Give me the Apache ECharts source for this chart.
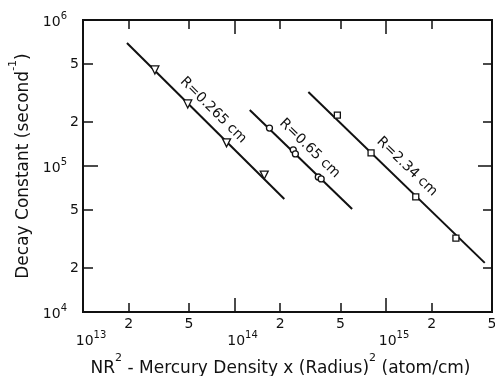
<!DOCTYPE html>
<html>
<head>
<meta charset="utf-8">
<script src="https://cdn.jsdelivr.net/npm/echarts@6/dist/echarts.min.js"></script>
<style>
  html, body { margin: 0; padding: 0; background: #fff; }
  #chart { width: 495px; height: 376px; }
</style>
</head>
<body>
<div id="chart"></div>
<script>
// NR^2 (atom/cm) vs decay constant (1/s)
const triX = [2.98e13, 4.91e13, 8.86e13, 1.57e14];
const triY = [4.55e5, 2.66e5, 1.44e5, 8.67e4];
const triLineX = [1.95e13, 2.13e14];
const triLineY = [6.95e5, 5.94e4];

const circX = [1.70e14, 2.44e14, 2.52e14, 3.57e14, 3.73e14];
const circY = [1.82e5, 1.29e5, 1.21e5, 8.41e4, 8.15e4];
const circLineX = [1.26e14, 5.97e14];
const circLineY = [2.42e5, 5.07e4];

const sqX = [4.77e14, 7.96e14, 1.57e15, 2.89e15];
const sqY = [2.23e5, 1.23e5, 6.14e4, 3.21e4];
const sqLineX = [3.07e14, 4.48e15];
const sqLineY = [3.21e5, 2.17e4];

const seriesNames = ['R=0.265 cm', 'R=0.65 cm', 'R=2.34 cm'];

// tick positions
const xMajor = [1e13, 1e14, 1e15];
const xMinor = [2e13, 5e13, 2e14, 5e14, 2e15, 5e15];
const yMajor = [1e4, 1e5, 1e6];
const yMinor = [2e4, 5e4, 2e5, 5e5];

const lg = v => Math.log10(v);
const FONT = 'DejaVu Sans';
const INK = '#111';

const pts = (xs, ys) => xs.map((x, i) => [lg(x), lg(ys[i])]);

const supRich = {
  b: { fontSize: 14, lineHeight: 18, verticalAlign: 'bottom', color: INK, fontFamily: FONT },
  s: { fontSize: 10, lineHeight: 10, verticalAlign: 'top', color: INK, fontFamily: FONT }
};
const nameRich = {
  n: { fontSize: 17, lineHeight: 24, verticalAlign: 'bottom', color: INK, fontFamily: FONT },
  s: { fontSize: 11, lineHeight: 11, verticalAlign: 'top', color: INK, fontFamily: FONT }
};

function powLabel(v) {
  return '{b|10}{s|' + Math.round(v) + '}';
}
function mantLabel(v) {
  return String(Math.round(Math.pow(10, v - Math.floor(v))));
}

function axis(dim, pos, vals, len, labelCfg) {
  const a = {
    type: 'value',
    position: pos,
    min: dim === 'x' ? 13 : 4,
    max: dim === 'x' ? lg(5e15) : 6,
    axisLine: { show: true, onZero: false, lineStyle: { color: INK, width: 2 } },
    axisTick: { show: true, inside: true, length: len, customValues: vals.map(lg), lineStyle: { color: INK, width: 1.5 } },
    splitLine: { show: false },
    axisLabel: { show: false }
  };
  if (labelCfg) {
    a.axisLabel = Object.assign({
      show: true,
      customValues: vals.map(lg),
      color: INK,
      fontFamily: FONT,
      fontSize: 14
    }, labelCfg);
  }
  return a;
}

const xAxes = [
  axis('x', 'bottom', xMajor, 14, {
    margin: 18,
    formatter: powLabel,
    rich: {
      b: Object.assign({}, supRich.b, { padding: [0, 0, 0, 16] }),
      s: supRich.s
    }
  }),
  axis('x', 'bottom', xMinor, 9, { margin: 5, formatter: mantLabel }),
  axis('x', 'top', xMajor, 14),
  axis('x', 'top', xMinor, 9)
];
xAxes[0].name = '{n|NR}{s|2}{n| - Mercury Density x (Radius)}{s|2}{n| (atom/cm)}';
xAxes[0].nameLocation = 'middle';
xAxes[0].nameGap = 38;
xAxes[0].nameTextStyle = { color: INK, fontFamily: FONT, fontSize: 17, padding: [0, 14, 0, 0], rich: nameRich };

const yAxes = [
  axis('y', 'left', yMajor, 15, {
    margin: 4,
    formatter: powLabel,
    rich: {
      b: supRich.b,
      s: Object.assign({}, supRich.s, { padding: [0, 12, 0, 0] })
    }
  }),
  axis('y', 'left', yMinor, 10, { margin: 4, formatter: mantLabel }),
  axis('y', 'right', yMajor, 14),
  axis('y', 'right', yMinor, 9)
];
yAxes[0].name = '{n|Decay Constant (second}{s|-1}{n|)}';
yAxes[0].nameLocation = 'middle';
yAxes[0].nameGap = 47;
yAxes[0].nameTextStyle = { color: INK, fontFamily: FONT, fontSize: 17, rich: nameRich };

const lineSeries = (xs, ys) => ({
  type: 'line',
  data: pts(xs, ys),
  showSymbol: false,
  silent: true,
  lineStyle: { color: INK, width: 2 },
  z: 2
});
const markSeries = (name, xs, ys, symbol, size, rot) => ({
  type: 'scatter',
  name: name,
  data: pts(xs, ys),
  symbol: symbol,
  symbolSize: size,
  symbolRotate: rot || 0,
  itemStyle: { color: '#fff', borderColor: INK, borderWidth: 1.3, opacity: 1 },
  z: 3
});

const chart = echarts.init(document.getElementById('chart'), null, { renderer: 'canvas' });
chart.setOption({
  animation: false,
  backgroundColor: '#fff',
  grid: { left: 83, top: 20, right: 3, bottom: 64, containLabel: false, outerBoundsMode: 'none' },
  xAxis: xAxes,
  yAxis: yAxes,
  series: [
    lineSeries(triLineX, triLineY),
    markSeries(seriesNames[0], triX, triY, 'triangle', 8, 180),
    lineSeries(circLineX, circLineY),
    markSeries(seriesNames[1], circX, circY, 'circle', 6),
    lineSeries(sqLineX, sqLineY),
    markSeries(seriesNames[2], sqX, sqY, 'rect', 6)
  ]
});

// labels along each fitted line: fraction along line, offset to upper-right (px)
const lineLabels = [
  { text: seriesNames[0], lx: triLineX, ly: triLineY, t: 0.49, off: 13 },
  { text: seriesNames[1], lx: circLineX, ly: circLineY, t: 0.49, off: 14 },
  { text: seriesNames[2], lx: sqLineX, ly: sqLineY, t: 0.50, off: 15 }
];
const graphics = lineLabels.map(l => {
  const p0 = chart.convertToPixel({ xAxisIndex: 0, yAxisIndex: 0 }, [lg(l.lx[0]), lg(l.ly[0])]);
  const p1 = chart.convertToPixel({ xAxisIndex: 0, yAxisIndex: 0 }, [lg(l.lx[1]), lg(l.ly[1])]);
  const dx = p1[0] - p0[0], dy = p1[1] - p0[1];
  const len = Math.sqrt(dx * dx + dy * dy);
  const cx = p0[0] + l.t * dx + l.off * dy / len;
  const cy = p0[1] + l.t * dy - l.off * dx / len;
  return {
    type: 'text',
    x: cx,
    y: cy,
    rotation: -Math.atan2(dy, dx),
    style: {
      text: l.text,
      fill: INK,
      font: '14px "' + FONT + '"',
      align: 'center',
      verticalAlign: 'middle'
    }
  };
});
chart.setOption({ graphic: graphics });
</script>
</body>
</html>
